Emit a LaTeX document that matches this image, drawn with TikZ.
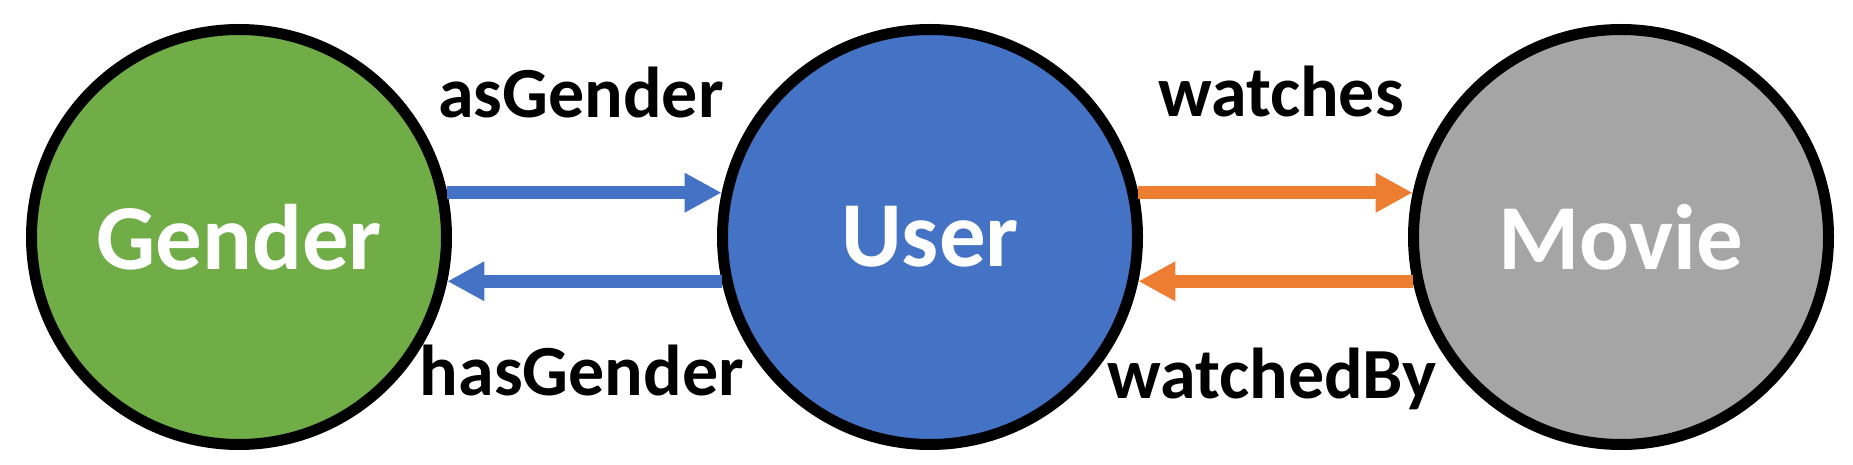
\documentclass[tikz,border=0pt]{standalone}
\usepackage{fontspec}
\setmainfont{Carlito}
\usetikzlibrary{arrows.meta}
\definecolor{cgreen}{HTML}{70AD47}
\definecolor{cblue}{HTML}{4472C4}
\definecolor{cgray}{HTML}{A5A5A5}
\definecolor{corange}{HTML}{ED7D31}
\begin{document}
\begin{tikzpicture}[x=1pt,y=1pt,
  entity/.style={circle,draw=black,line width=11pt,minimum size=415pt,inner sep=0pt,
    text=white,font=\fontsize{93}{100}\selectfont\bfseries},
  rel/.style={line width=13pt,-{Triangle[length=37pt,width=37pt]}},
  rlabel/.style={anchor=base,inner sep=0pt,font=\fontsize{72}{80}\selectfont\bfseries}]
\useasboundingbox (0,0) rectangle (1853,464);
\node[entity,fill=cgreen] (gender) at (239,227) {Gender};
\node[entity,fill=cblue] (user) at (930,227) {User};
\node[entity,fill=cgray] (movie) at (1621,227) {Movie};
\draw[rel,cblue] (gender.12) -- (user.168);
\draw[rel,cblue] (user.192) -- (gender.348);
\draw[rel,corange] (user.12) -- (movie.168);
\draw[rel,corange] (movie.192) -- (user.348);
\node[rlabel] (l1) at (581,346) {asGender};
\node[rlabel] (l2) at (582,69) {hasGender};
\node[rlabel] (l3) at (1281,347) {watches};
\node[rlabel] (l4) at (1272,66) {watchedBy};
\end{tikzpicture}
\end{document}
